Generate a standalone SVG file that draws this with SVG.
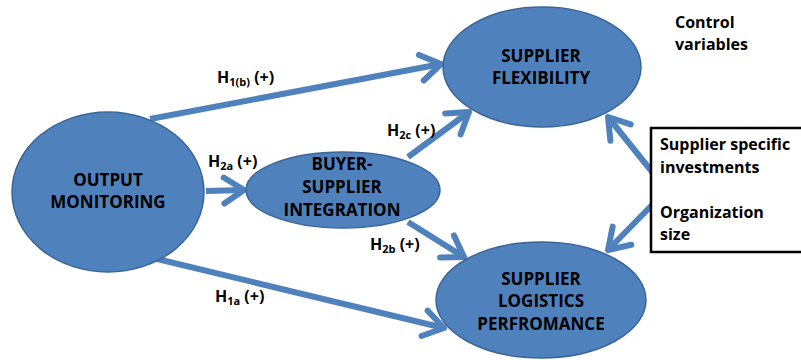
<svg xmlns="http://www.w3.org/2000/svg" width="801" height="360" viewBox="0 0 801 360">
<style>
.node{fill:#4f81bd;stroke:#3a6597;stroke-width:1.5}
.nt{font-family:"Open Sans","Liberation Sans",sans-serif;font-weight:bold;font-size:17px;fill:#000;text-anchor:middle}
.lbl{font-family:"Open Sans","Liberation Sans",sans-serif;font-weight:bold;font-size:16px;fill:#000}
.sub{font-size:11px}
.txt{font-family:"Open Sans","Liberation Sans",sans-serif;font-weight:bold;font-size:16px;fill:#000}
.conn{stroke:#4f81bd;stroke-width:6;fill:none;marker-end:url(#arr)}
</style>
<defs>
<marker id="arr" markerUnits="userSpaceOnUse" viewBox="-26 -16 30 32" refX="0" refY="0" markerWidth="30" markerHeight="32" orient="auto" overflow="visible">
<path d="M-20,-13 L0,0 L-20,13" fill="none" stroke="#4f81bd" stroke-width="6" stroke-linecap="round" stroke-linejoin="round"/>
</marker>
</defs>
<rect width="801" height="360" fill="#fff"/>
<g id="connectors">
<path class="conn" d="M150,119 L441,64"/>
<path class="conn" d="M153,258 L444,328"/>
<path class="conn" d="M206,191 L244,190"/>
<path class="conn" d="M408,157 L469,112"/>
<path class="conn" d="M408,222 L464,257"/>
<path class="conn" d="M653,173 L608,117"/>
<path class="conn" d="M653,204 L608,250"/>
</g>
<g id="labels">
<text class="lbl" x="217" y="83">H<tspan class="sub" dy="3">1(b)</tspan><tspan dy="-3"> (+)</tspan></text>
<text class="lbl" x="208" y="167">H<tspan class="sub" dy="3">2a</tspan><tspan dy="-3"> (+)</tspan></text>
<text class="lbl" x="387" y="136">H<tspan class="sub" dy="3">2c</tspan><tspan dy="-3"> (+)</tspan></text>
<text class="lbl" x="370" y="250">H<tspan class="sub" dy="3">2b</tspan><tspan dy="-3"> (+)</tspan></text>
<text class="lbl" x="215" y="302">H<tspan class="sub" dy="3">1a</tspan><tspan dy="-3"> (+)</tspan></text>
</g>
<g id="output-monitoring">
<ellipse class="node" cx="108" cy="192" rx="96" ry="80"/>
<text class="nt" x="108" y="186">OUTPUT</text>
<text class="nt" x="108" y="208">MONITORING</text>
</g>
<g id="buyer-supplier-integration">
<ellipse class="node" cx="343" cy="190" rx="97" ry="38"/>
<text class="nt" x="342" y="170">BUYER-</text>
<text class="nt" x="342" y="193">SUPPLIER</text>
<text class="nt" x="342" y="216">INTEGRATION</text>
</g>
<g id="supplier-flexibility">
<ellipse class="node" cx="542" cy="67" rx="99" ry="60"/>
<text class="nt" x="541" y="62">SUPPLIER</text>
<text class="nt" x="541" y="84">FLEXIBILITY</text>
</g>
<g id="supplier-logistics-performance">
<ellipse class="node" cx="541" cy="300" rx="105" ry="58"/>
<text class="nt" x="541" y="285">SUPPLIER</text>
<text class="nt" x="541" y="307">LOGISTICS</text>
<text class="nt" x="541" y="330">PERFROMANCE</text>
</g>
<g id="control-variables-title">
<text class="txt" x="675" y="28">Control</text>
<text class="txt" x="675" y="50">variables</text>
</g>
<g id="control-variables">
<rect x="651" y="128" width="160" height="124" fill="#fff" stroke="#000" stroke-width="2.5"/>
<text class="txt" x="660" y="150">Supplier specific</text>
<text class="txt" x="660" y="173">investments</text>
<text class="txt" x="660" y="218">Organization</text>
<text class="txt" x="660" y="240">size</text>
</g>
</svg>
